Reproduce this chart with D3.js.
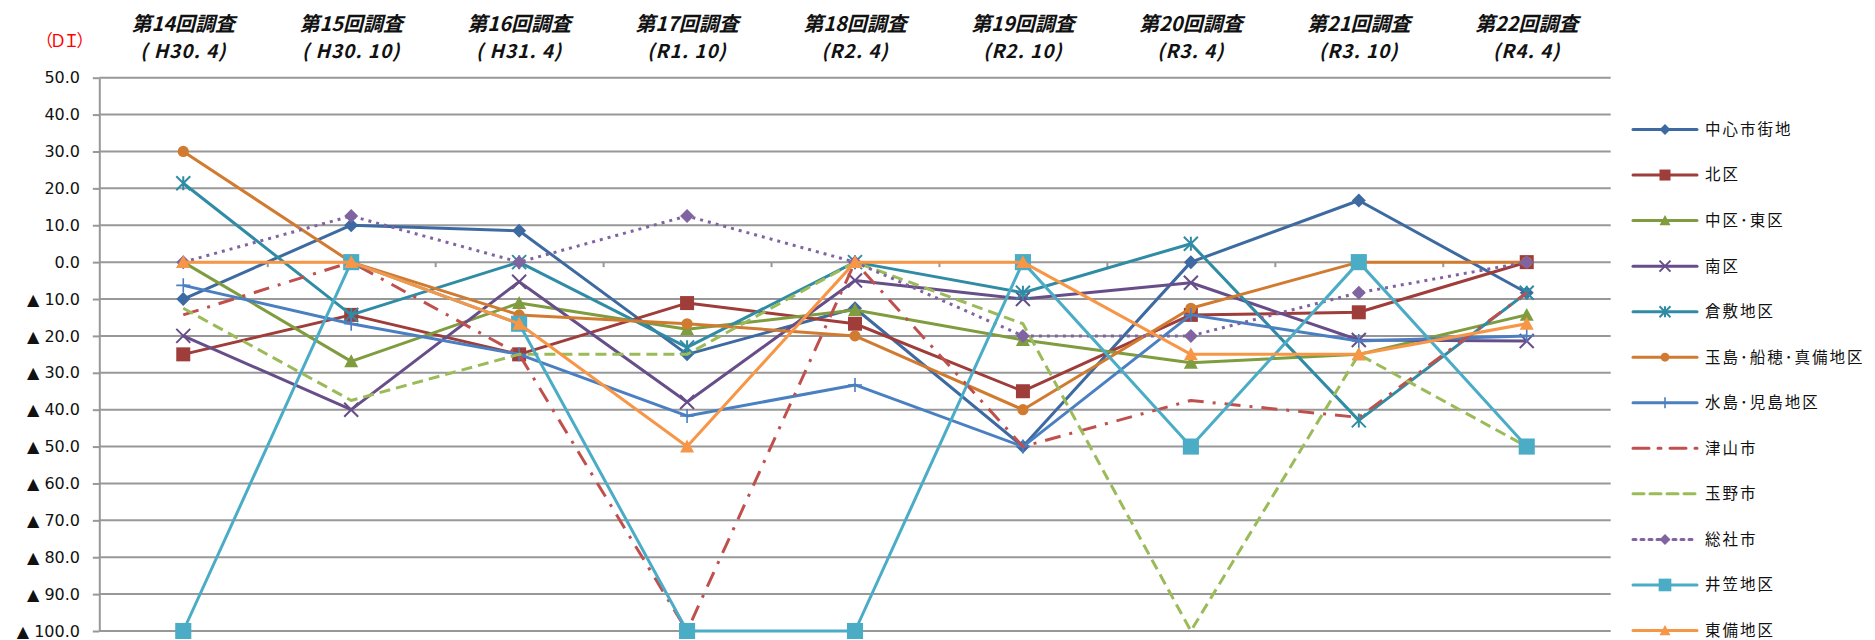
<!DOCTYPE html>
<html>
<head>
<meta charset="utf-8">
<script src="https://cdn.jsdelivr.net/npm/d3@7"></script>
<style>
  html, body { margin: 0; padding: 0; background: #fff; }
  svg { display: block; }
</style>
</head>
<body>
<div id="chart"></div>
<script>
// survey rounds (header labels)
const surveys = ["第14回調査", "第15回調査", "第16回調査", "第17回調査", "第18回調査", "第19回調査", "第20回調査", "第21回調査", "第22回調査"];
const periods = ["( H30. 4)", "( H30. 10)", "( H31. 4)", "(R1. 10)", "(R2. 4)", "(R2. 10)", "(R3. 4)", "(R3. 10)", "(R4. 4)"];

// y axis tick values
const yTicks = [50, 40, 30, 20, 10, 0, -10, -20, -30, -40, -50, -60, -70, -80, -90, -100];

// DI values per area
const chushinShigaichi = [-10, 10, 8.5, -25, -12.5, -50, 0, 16.7, -8.3];
const kitaku = [-25, -14.3, -25, -11.1, -16.7, -35, -14.3, -13.6, 0];
const nakakuHigashiku = [0, -26.9, -11.1, -18.2, -13, -21.1, -27.3, -25, -14.3];
const minamiku = [-20, -40, -5.3, -37.9, -5, -10, -5.6, -21.1, -21.4];
const kurashiki = [21.4, -14.3, 0, -23.1, 0, -8.3, 5, -42.9, -8.3];
const tamashima = [30, 0, -14.3, -16.7, -20, -40, -12.5, 0, 0];
const mizushima = [-6.3, -16.7, -25, -41.7, -33.3, -50, -14.3, -21.4, -20];
const tsuyama = [-14.3, 0, -25, -100, 0, -50, -37.5, -42.1, -8.3];
const tamano = [-12.5, -37.5, -25, -25, 0, -16.7, -100, -25, -50];
const soja = [0, 12.5, 0, 12.5, 0, -20, -20, -8.3, 0];
const ikasa = [-100, 0, -16.7, -100, -100, 0, -50, 0, -50];
const tobi = [0, 0, -16.7, -50, 0, 0, -25, -25, -16.7];

const series = [
    { name: "中心市街地", values: chushinShigaichi, color: "#3d6aa1", marker: "diamond" },
    { name: "北区", values: kitaku, color: "#9e3d3a", marker: "square" },
    { name: "中区･東区", values: nakakuHigashiku, color: "#7f9c3f", marker: "triangle" },
    { name: "南区", values: minamiku, color: "#674e89", marker: "cross" },
    { name: "倉敷地区", values: kurashiki, color: "#2f8ca4", marker: "star" },
    { name: "玉島･船穂･真備地区", values: tamashima, color: "#d17b31", marker: "circle" },
    { name: "水島･児島地区", values: mizushima, color: "#4a7fc1", marker: "plus" },
    { name: "津山市", values: tsuyama, color: "#c0504d", marker: null, dash: "16,9,3,9" },
    { name: "玉野市", values: tamano, color: "#9bbb59", marker: null, dash: "11,6" },
    { name: "総社市", values: soja, color: "#8064a2", marker: "diamond", dash: "3,5" },
    { name: "井笠地区", values: ikasa, color: "#4bacc6", marker: "bigsquare" },
    { name: "東備地区", values: tobi, color: "#f79646", marker: "triangle" }
];

const width = 1875, height = 640;
const plot = { left: 99.3, right: 1610.7, top: 77.7, bottom: 631 };

const svg = d3.select("#chart").append("svg")
    .attr("width", width)
    .attr("height", height);

// scales
const x = d3.scaleBand().domain(surveys).range([plot.left, plot.right]);
const cx = name => x(name) + x.bandwidth() / 2;
const y = d3.scaleLinear().domain([-100, 50]).range([plot.bottom, plot.top]);

// gridlines
svg.append("g")
    .selectAll("line")
    .data(yTicks)
    .enter()
    .append("line")
    .attr("x1", plot.left)
    .attr("x2", plot.right)
    .attr("y1", d => y(d))
    .attr("y2", d => y(d))
    .attr("stroke", "#989898")
    .attr("stroke-width", 2);

// y axis
const fmt = d3.format(".1f");
const yAxis = svg.append("g")
    .attr("transform", `translate(${plot.left},0)`)
    .call(d3.axisLeft(y)
        .tickValues(yTicks)
        .tickSize(6.5)
        .tickSizeOuter(0)
        .tickPadding(12.8)
        .tickFormat(v => v < 0 ? "▲ " + fmt(-v) : fmt(v)));
yAxis.select(".domain").attr("stroke", "#989898").attr("stroke-width", 2);
yAxis.selectAll(".tick line").attr("stroke", "#989898").attr("stroke-width", 2);
yAxis.selectAll(".tick text")
    .attr("fill", "#111")
    .style("font-family", "'DejaVu Sans', sans-serif")
    .style("font-size", "16px");

// category boundary ticks sitting on the zero line
const xb = d3.scaleLinear().domain([0, surveys.length]).range([plot.left, plot.right]);
const xAxis = svg.append("g")
    .attr("transform", `translate(0,${y(0)})`)
    .call(d3.axisBottom(xb).tickValues(d3.range(1, surveys.length)).tickSize(5).tickFormat(""));
xAxis.select(".domain").remove();
xAxis.selectAll(".tick line").attr("stroke", "#989898").attr("stroke-width", 2);

// header labels
const header = svg.append("g")
    .style("font-family", "'Noto Sans CJK JP', sans-serif")
    .style("font-style", "italic")
    .style("font-weight", "bold")
    .attr("text-anchor", "middle")
    .attr("fill", "#111");
header.selectAll(".h1")
    .data(surveys)
    .enter()
    .append("text")
    .attr("x", d => cx(d))
    .attr("y", 31)
    .style("font-size", "20px")
    .text(d => d);
header.selectAll(".h2")
    .data(periods)
    .enter()
    .append("text")
    .attr("x", (d, i) => cx(surveys[i]))
    .attr("y", 58)
    .style("font-size", "19px")
    .style("letter-spacing", "1px")
    .text(d => d);

// unit label
svg.append("text")
    .attr("x", 36)
    .attr("y", 47)
    .attr("fill", "#ff0000")
    .style("font-family", "'Noto Sans CJK JP', sans-serif")
    .style("font-size", "17px")
    .style("letter-spacing", "-3.5px")
    .text("（ＤＩ）");

// marker shapes, r is the half size
function drawMarker(g, type, color, r) {
    if (type === "diamond") {
        g.append("path").attr("d", `M0,${-r}L${r},0L0,${r}L${-r},0Z`).attr("fill", color);
    } else if (type === "square" || type === "bigsquare") {
        const s = type === "bigsquare" ? r * 1.15 : r;
        g.append("rect").attr("x", -s).attr("y", -s).attr("width", 2 * s).attr("height", 2 * s).attr("fill", color);
    } else if (type === "triangle") {
        g.append("path").attr("d", `M0,${-r}L${r},${r * 0.85}L${-r},${r * 0.85}Z`).attr("fill", color);
    } else if (type === "circle") {
        g.append("circle").attr("r", r * 0.8).attr("fill", color);
    } else if (type === "cross" || type === "star" || type === "plus") {
        const p = [];
        if (type !== "plus") p.push(`M${-r},${-r}L${r},${r}M${-r},${r}L${r},${-r}`);
        if (type === "star") p.push(`M0,${-r}L0,${r}`);
        if (type === "plus") p.push(`M0,${-r}L0,${r}M${-r},0L${r},0`);
        g.append("path").attr("d", p.join("")).attr("fill", "none")
            .attr("stroke", color).attr("stroke-width", type === "plus" ? 1.6 : 2);
    }
}

// series lines
const line = d3.line()
    .x((d, i) => cx(surveys[i]))
    .y(d => y(d));

series.forEach(s => {
    const g = svg.append("g");
    g.append("path")
        .datum(s.values)
        .attr("d", line)
        .attr("fill", "none")
        .attr("stroke", s.color)
        .attr("stroke-width", 3)
        .attr("stroke-linejoin", "round")
        .attr("stroke-dasharray", s.dash || null);
    if (s.marker) {
        s.values.forEach((v, i) => {
            const m = g.append("g").attr("transform", `translate(${cx(surveys[i])},${y(v)})`);
            drawMarker(m, s.marker, s.color, 7);
        });
    }
});

// legend
const ly = d3.scalePoint().domain(series.map(s => s.name)).range([129.5, 630.5]);
const legend = svg.append("g");
series.forEach(s => {
    const g = legend.append("g").attr("transform", `translate(0,${ly(s.name)})`);
    g.append("line")
        .attr("x1", 1633)
        .attr("x2", 1697)
        .attr("stroke", s.color)
        .attr("stroke-width", 3)
        .attr("stroke-linecap", "round")
        .attr("stroke-dasharray", s.dash || null);
    if (s.marker) {
        const m = g.append("g").attr("transform", "translate(1665,0)");
        drawMarker(m, s.marker, s.color, 5.5);
    }
    g.append("text")
        .attr("x", 1705)
        .attr("dy", "0.35em")
        .attr("fill", "#111")
        .style("font-family", "'Noto Sans CJK JP', sans-serif")
        .style("font-size", "15.5px")
        .style("letter-spacing", "2px")
        .text(s.name);
});
</script>
</body>
</html>
